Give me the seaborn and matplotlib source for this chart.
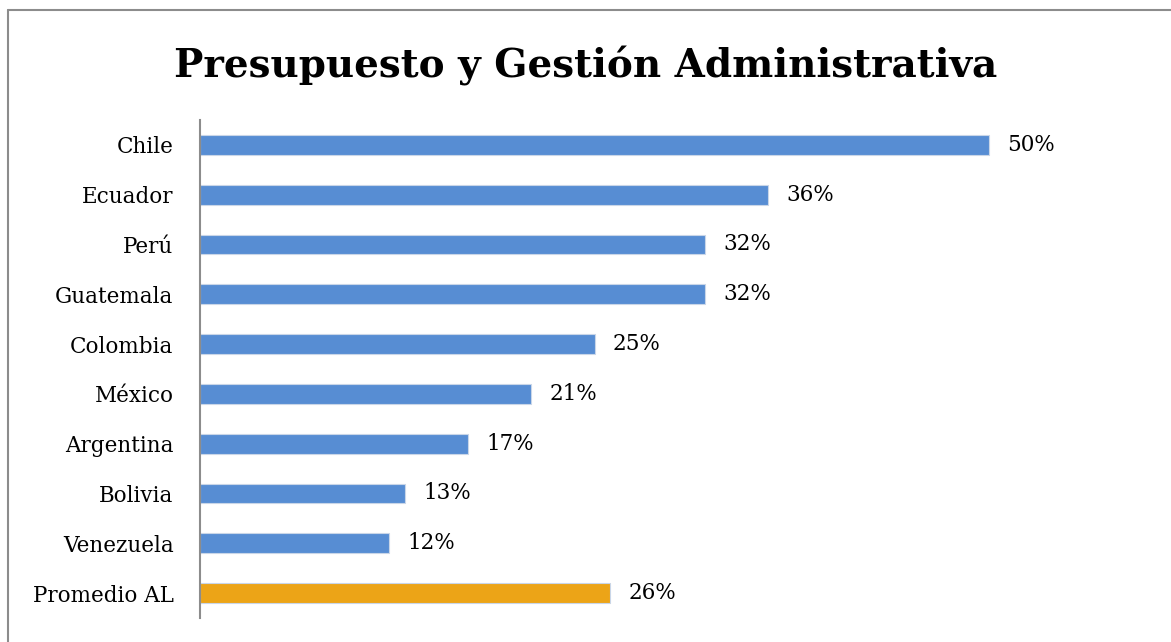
import matplotlib
matplotlib.use("Agg")
import matplotlib.pyplot as plt
import seaborn as sns
import pandas as pd
from matplotlib.lines import Line2D

sns.set_theme(style="white")
plt.rcParams['font.family'] = ['DejaVu Serif']

countries = ["Chile", "Ecuador", "Perú", "Guatemala", "Colombia", "México",
             "Argentina", "Bolivia", "Venezuela", "Promedio AL"]
values = [0.50, 0.36, 0.32, 0.32, 0.25, 0.21, 0.17, 0.13, 0.12, 0.26]
groups = ["pais"] * 9 + ["promedio"]

df = pd.DataFrame({"country": countries, "value": values, "group": groups})

fig = plt.figure(figsize=(11.71, 6.42), dpi=100)
ax = fig.add_axes([0.1708, 0.0374, 0.8087, 0.7757])

sns.barplot(data=df, y="country", x="value", hue="group", dodge=False,
            palette={"pais": "#578dd3", "promedio": "#eca417"}, saturation=1,
            width=0.4, legend=False, ax=ax, edgecolor="#c9d6e8", linewidth=0.8)

for cont in ax.containers:
    ax.bar_label(cont, labels=[f"{v * 100:.0f}%" for v in cont.datavalues],
                 padding=13, fontsize=15.5, color="black")

ax.set_xlim(0, 0.60)
ax.set_ylim(9.5, -0.5)
ax.set_xlabel("")
ax.set_ylabel("")
ax.set_xticks([])
ax.tick_params(axis="y", length=0, pad=19, labelsize=15.5, labelcolor="black")
for s in ["top", "right", "bottom"]:
    ax.spines[s].set_visible(False)
ax.spines["left"].set_color("#8c8c8c")
ax.spines["left"].set_linewidth(1.5)

fig.text(0.5, 1 - 77 / 642, "Presupuesto y Gestión Administrativa", ha="center",
         va="baseline", fontsize=28, fontweight="bold", color="black")

# outer frame (left and top edges visible)
fig.add_artist(Line2D([8 / 1171, 8 / 1171], [0, 1 - 10 / 642], color="#8c8c8c", lw=1.5))
fig.add_artist(Line2D([8 / 1171, 1], [1 - 10 / 642, 1 - 10 / 642], color="#8c8c8c", lw=1.5))

fig.savefig("out.png", dpi=100)
